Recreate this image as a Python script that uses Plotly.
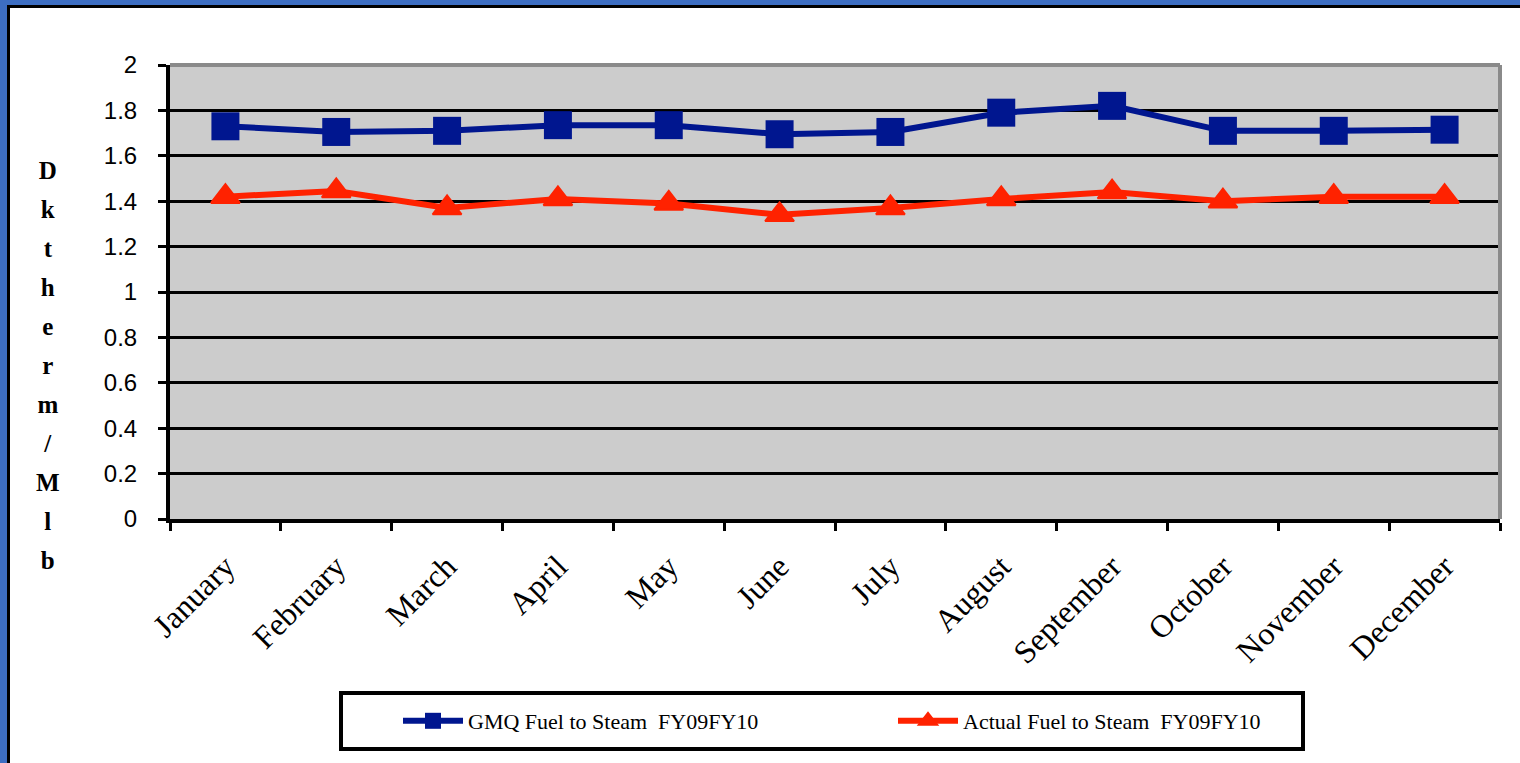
import plotly.graph_objects as go

months = ["January", "February", "March", "April", "May", "June",
          "July", "August", "September", "October", "November", "December"]
gmq_fuel = [1.73, 1.705, 1.71, 1.735, 1.735, 1.695, 1.705, 1.79, 1.82, 1.71, 1.71, 1.715]
actual_fuel = [1.42, 1.445, 1.37, 1.41, 1.39, 1.34, 1.37, 1.41, 1.44, 1.40, 1.42, 1.42]
y_title = "Dktherm/Mlb"

W, H = 1520, 763
L, R, T, B = 170, 20, 65, 244
PW, PH = W - L - R, H - T - B


def px(x):
    return (x - L) / PW


def py(y):
    return 1 - (y - T) / PH


fig = go.Figure()

fig.add_trace(go.Scatter(
    x=months, y=gmq_fuel, mode="lines+markers", name="GMQ Fuel to Steam  FY09FY10",
    line=dict(color="#00168F", width=6),
    marker=dict(symbol="square", size=28, color="#00168F")
))
fig.add_trace(go.Scatter(
    x=months, y=actual_fuel, mode="lines+markers", name="Actual Fuel to Steam  FY09FY10",
    line=dict(color="#FF2200", width=6),
    marker=dict(symbol="triangle-up", size=25, color="#FF2200",
                line=dict(color="#FF2200", width=2))
))

# outer frame (blue strip + black line at top and left), plot-area border, legend box
frame = [
    dict(type="rect", xref="paper", yref="paper", x0=px(-20), x1=px(1540), y0=py(5), y1=py(-20),
         fillcolor="#3d6ec2", line=dict(width=0)),
    dict(type="rect", xref="paper", yref="paper", x0=px(7), x1=px(1540), y0=py(8), y1=py(5),
         fillcolor="#000000", line=dict(width=0)),
    dict(type="rect", xref="paper", yref="paper", x0=px(-20), x1=px(7), y0=py(790), y1=py(5),
         fillcolor="#3d6ec2", line=dict(width=0)),
    dict(type="rect", xref="paper", yref="paper", x0=px(7), x1=px(10), y0=py(790), y1=py(8),
         fillcolor="#000000", line=dict(width=0)),
    dict(type="line", xref="paper", yref="paper", x0=0, x1=1, y0=1, y1=1,
         line=dict(color="#8a8a8a", width=4)),
    dict(type="line", xref="paper", yref="paper", x0=1, x1=1, y0=0, y1=1,
         line=dict(color="#8a8a8a", width=4)),
    dict(type="rect", xref="paper", yref="paper", x0=px(341), x1=px(1303), y0=py(749), y1=py(693),
         line=dict(color="black", width=4)),
]

stacked = "<br>".join("<b style='font-size:25px'>%s</b>" % c for c in y_title)

fig.update_layout(
    width=W, height=H,
    margin=dict(l=L, r=R, t=T, b=B),
    paper_bgcolor="white", plot_bgcolor="#cccccc",
    font=dict(family="Liberation Serif", color="black"),
    showlegend=True,
    legend=dict(
        orientation="h", x=px(398), xanchor="left", y=py(721), yanchor="middle",
        borderwidth=0, bgcolor="rgba(0,0,0,0)",
        font=dict(family="Liberation Serif", size=22, color="black"),
        entrywidth=420, itemwidth=60
    ),
    xaxis=dict(
        type="category", range=[-0.5, 11.5], tickson="boundaries",
        ticks="outside", ticklen=8, tickwidth=3, tickcolor="black",
        showline=True, linewidth=4, linecolor="black",
        showgrid=False, tickangle=-45, ticklabelstandoff=12,
        tickfont=dict(family="Liberation Serif", size=32, color="black")
    ),
    yaxis=dict(
        range=[0, 2], dtick=0.2, tick0=0,
        showgrid=True, gridcolor="black", gridwidth=3, zeroline=False,
        ticks="outside", ticklen=8, tickwidth=3, tickcolor="black",
        showline=True, linewidth=4, linecolor="black",
        ticklabelstandoff=16,
        tickfont=dict(family="Liberation Sans", size=24, color="black")
    ),
    shapes=frame,
    annotations=[dict(
        text=stacked, xref="paper", yref="paper", x=px(48), y=py(365),
        xanchor="center", yanchor="middle", showarrow=False, align="center",
        font=dict(family="Liberation Serif", size=30, color="black")
    )]
)

fig.write_html("out.html", config={"displayModeBar": False},
               post_script="document.body.style.margin='0';")
